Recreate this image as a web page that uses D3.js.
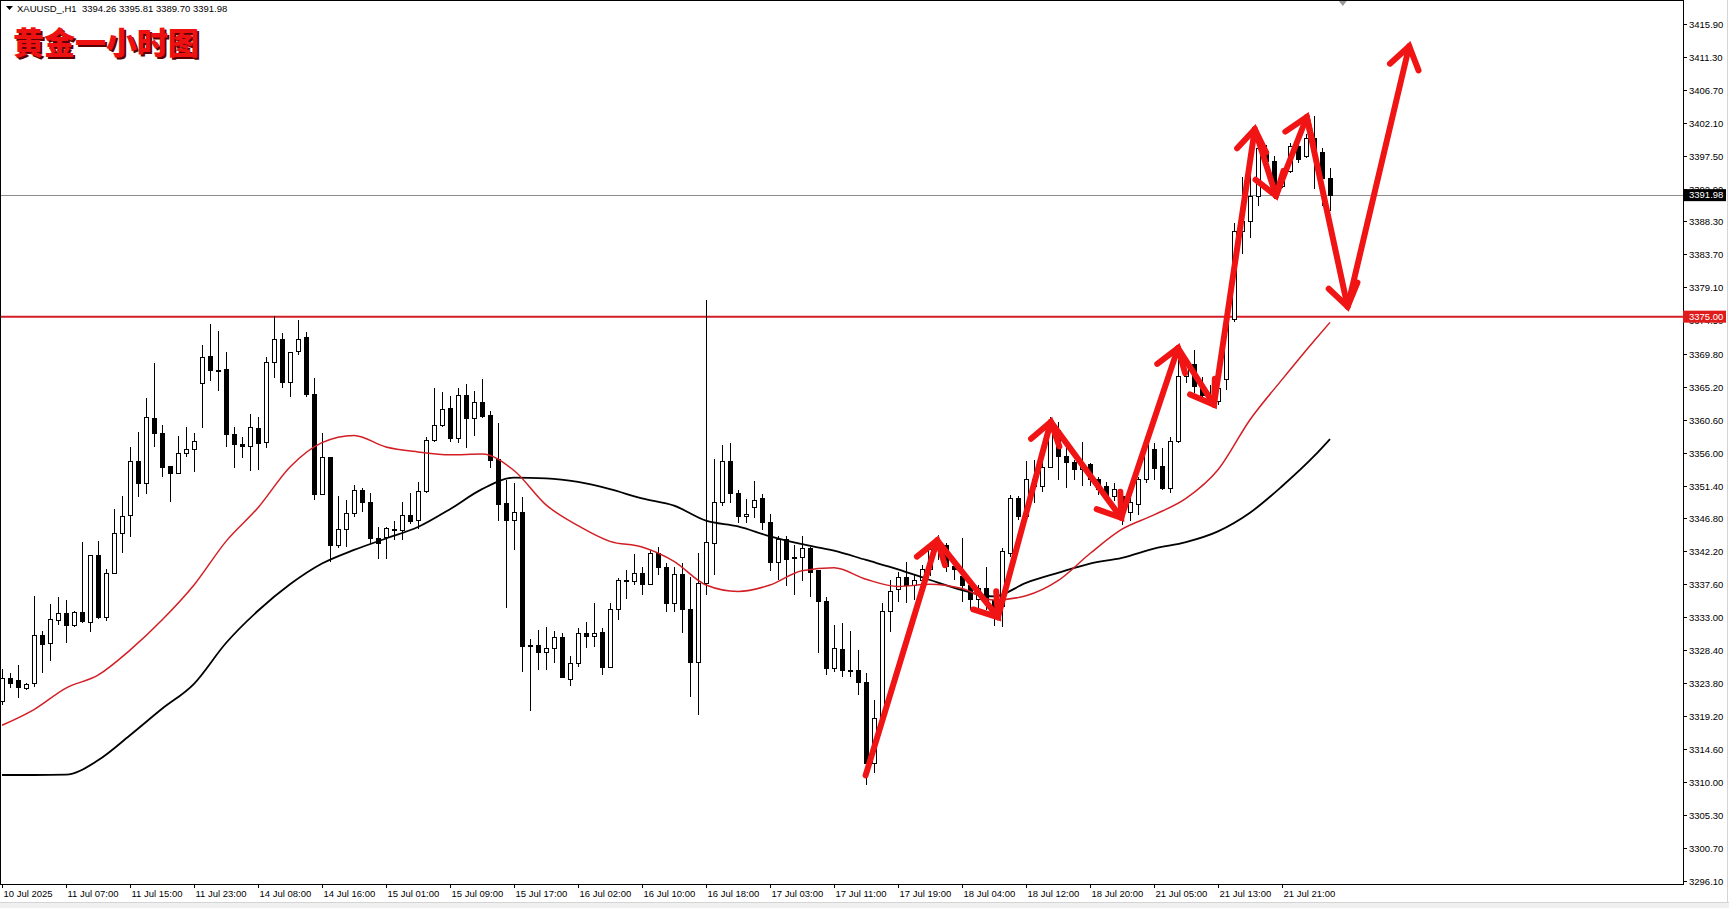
<!DOCTYPE html>
<html><head><meta charset="utf-8">
<script src="https://cdn.jsdelivr.net/npm/d3@7"></script>
<style>html,body{margin:0;padding:0;background:#fff;overflow:hidden}</style>
</head><body>
<svg id="c" width="1729" height="908"></svg>
<script>
// ---------------- DATA ----------------
const symbolInfo = "XAUUSD_,H1  3394.26 3395.81 3389.70 3391.98";
const title = "黄金一小时图";
const openP = [3321.2,3324.46,3324.13,3323.07,3323.76,3330.38,3329.35,3332.61,3333.55,3331.82,
3333.69,3332.24,3341.56,3332.99,3339.13,3344.72,3347.19,3354.74,3351.71,3360.79,
3358.7,3354.04,3353.11,3355.9,3356.46,3365.68,3369.41,3367.5,3367.55,3358.47,
3357.16,3356.84,3359.4,3357.4,3368.62,3371.83,3365.78,3370.11,3372.11,3364.15,
3350.18,3355.35,3343.0,3345.19,3347.52,3350.69,3349.1,3344.03,3344.17,3345.3,
3345.05,3347.2,3346.45,3350.55,3357.67,3359.8,3362.1,3358.0,3363.92,3360.8,
3363.03,3361.12,3354.98,3348.92,3346.5,3347.66,3329.0,3329.08,3328.05,3328.66,
3330.2,3324.33,3326.57,3330.76,3330.29,3330.9,3326.0,3334.11,3338.0,3337.98,
3339.14,3337.6,3341.93,3339.93,3334.85,3339.0,3334.1,3326.65,3337.73,3343.32,
3349.0,3354.74,3350.31,3347.14,3348.35,3349.61,3346.26,3340.67,3343.88,3341.2,
3341.32,3342.63,3339.5,3335.17,3325.86,3328.51,3325.6,3325.62,3323.9,3312.58,
3318.87,3333.78,3336.9,3338.58,3337.5,3338.2,3339.6,3342.5,3343.09,3340.07,
3338.67,3337.5,3335.5,3337.0,3335.4,3334.48,3341.93,3349.62,3347.05,3352.3,
3351.25,3353.95,3359.16,3355.44,3354.6,3353.6,3354.3,3352.18,3351.2,3349.85,
3349.8,3347.6,3348.69,3352.18,3356.38,3354.05,3351.02,3357.54,3366.62,3368.25,
3365.2,3364.0,3363.2,3366.16,3374.54,3386.9,3388.28,3391.8,3398.06,3396.7,
3393.17,3395.27,3398.76,3397.36,3399.9,3397.9,3394.26];
const highP = [3325.7,3325.16,3326.33,3323.86,3335.97,3331.12,3334.85,3335.78,3335.41,3333.9,
3343.47,3341.7,3343.65,3339.69,3348.08,3349.94,3356.83,3358.84,3363.59,3368.57,
3359.86,3354.1,3358.32,3359.53,3358.79,3371.04,3373.97,3373.04,3370.02,3359.63,
3358.23,3361.4,3360.94,3369.41,3375.1,3372.67,3370.11,3374.54,3372.9,3366.38,
3358.7,3355.4,3349.94,3349.38,3351.48,3351.01,3350.41,3345.57,3345.66,3346.5,
3349.06,3350.31,3351.95,3358.14,3364.99,3364.5,3363.92,3364.99,3365.55,3364.62,
3366.29,3361.87,3360.1,3352.18,3351.72,3349.85,3329.92,3331.22,3331.6,3331.13,
3330.85,3327.59,3331.46,3332.38,3334.95,3331.46,3334.95,3338.44,3339.61,3341.8,
3340.07,3342.4,3342.77,3340.54,3340.06,3340.62,3338.67,3341.93,3377.3,3355.06,
3357.06,3357.39,3350.78,3349.47,3352.08,3350.22,3347.42,3344.35,3344.35,3343.09,
3344.35,3342.86,3339.6,3335.87,3331.9,3332.15,3331.07,3328.42,3325.25,3321.43,
3335.03,3338.2,3339.37,3340.77,3338.9,3340.3,3343.5,3344.5,3343.33,3341.0,
3344.03,3338.2,3337.5,3340.0,3336.0,3342.63,3350.08,3349.94,3354.83,3355.0,
3354.97,3361.03,3360.33,3356.6,3354.97,3357.5,3354.6,3352.64,3351.95,3351.7,
3350.3,3350.0,3352.65,3358.24,3357.31,3356.61,3358.24,3369.0,3369.4,3370.35,
3366.5,3365.5,3366.0,3375.0,3388.05,3394.5,3395.27,3400.5,3398.99,3397.5,
3394.8,3399.23,3399.69,3400.5,3403.07,3398.5,3395.81];
const lowP = [3320.8,3323.07,3321.67,3322.83,3323.3,3325.16,3326.93,3331.92,3329.35,3331.7,
3332.15,3330.98,3332.71,3332.52,3339.0,3342.02,3344.26,3349.85,3350.17,3356.83,
3352.64,3349.15,3352.97,3355.44,3353.34,3359.4,3366.06,3364.66,3356.83,3353.9,
3355.3,3353.48,3353.57,3356.6,3366.38,3365.08,3363.73,3369.64,3363.73,3349.38,
3350.1,3340.77,3342.63,3342.86,3347.05,3347.75,3343.24,3341.09,3341.09,3343.8,
3343.8,3346.03,3345.29,3350.41,3357.53,3359.6,3357.54,3357.4,3356.6,3358.38,
3360.8,3353.9,3346.45,3334.25,3342.4,3325.4,3319.95,3325.63,3325.63,3326.57,
3324.47,3323.4,3326.0,3328.66,3328.8,3324.93,3325.87,3332.62,3335.51,3337.5,
3336.11,3337.5,3338.91,3333.78,3333.77,3330.75,3321.9,3319.34,3336.1,3338.9,
3348.54,3348.91,3346.12,3346.12,3346.82,3345.19,3339.5,3338.2,3337.36,3336.1,
3338.11,3335.78,3328.05,3324.93,3325.39,3324.6,3324.6,3322.13,3309.56,3311.19,
3318.5,3330.98,3335.18,3334.95,3335.4,3337.3,3338.8,3341.0,3339.37,3338.2,
3335.18,3334.0,3334.0,3334.0,3331.8,3331.68,3341.46,3346.59,3346.96,3349.0,
3350.55,3353.8,3352.18,3351.0,3352.18,3351.3,3351.3,3350.08,3349.15,3349.2,
3345.9,3346.5,3347.3,3351.72,3352.18,3350.79,3350.41,3357.3,3365.7,3364.29,
3363.0,3362.5,3362.6,3364.76,3374.3,3383.8,3385.95,3390.5,3395.5,3391.5,
3393.0,3395.03,3396.43,3397.13,3392.9,3390.4,3389.70];
const closeP = [3324.46,3323.76,3323.16,3323.62,3330.38,3329.21,3332.71,3333.55,3331.82,3333.69,
3332.38,3341.56,3332.94,3339.13,3344.72,3347.05,3354.74,3351.71,3360.93,3358.7,
3353.95,3353.11,3355.9,3356.46,3357.53,3369.32,3367.45,3367.3,3358.47,3357.07,
3356.84,3359.54,3357.3,3368.62,3371.83,3365.78,3370.02,3371.83,3364.15,3350.18,
3355.35,3343.0,3345.19,3347.52,3350.69,3349.01,3343.94,3343.24,3345.43,3345.1,
3347.2,3346.36,3350.55,3357.67,3359.77,3362.06,3358.0,3363.92,3360.8,3363.03,
3361.03,3354.88,3348.78,3346.5,3347.66,3328.89,3328.9,3328.05,3328.66,3330.2,
3324.61,3326.47,3330.76,3330.29,3330.76,3326.0,3334.11,3338.07,3338.1,3339.14,
3337.6,3341.93,3339.93,3334.95,3339.0,3334.1,3326.65,3337.73,3343.42,3349.0,
3354.74,3350.31,3347.14,3347.38,3349.38,3346.26,3340.67,3343.88,3341.09,3341.4,
3342.63,3339.23,3335.17,3325.86,3328.65,3325.62,3325.5,3323.9,3312.58,3318.87,
3333.78,3336.6,3338.58,3337.5,3338.2,3339.6,3342.5,3343.1,3340.07,3339.6,
3337.5,3335.5,3337.0,3335.4,3333.0,3342.16,3349.62,3347.05,3352.27,3351.3,
3353.95,3359.16,3355.44,3354.6,3353.58,3354.3,3352.18,3350.78,3349.85,3350.78,
3347.6,3349.0,3352.18,3357.31,3353.81,3351.02,3357.54,3366.62,3368.25,3365.23,
3364.0,3363.2,3365.0,3374.54,3386.88,3388.3,3391.77,3398.5,3396.66,3393.2,
3394.57,3398.76,3396.9,3399.92,3397.9,3394.3,3391.98];

const maBar  = [0,4,8,12,16,20,24,28,32,36,40,44,48,52,56,60,64,68,72,76,80,84,88,92,96,100,104,108,112,116,120,124,128,132,136,140,144,148,152,156,160,164,166];
const maRed  = [3317.9,3320.1,3323.1,3324.9,3328.4,3332.6,3337.5,3343.6,3348.3,3354.0,3357.4,3358.4,3356.8,3356.1,3355.7,3355.8,3353.5,3348.7,3345.8,3343.6,3342.8,3340.8,3337.5,3336.6,3337.5,3339.5,3339.9,3338.3,3337.3,3337.6,3337.0,3335.4,3336.0,3338.1,3341.9,3345.3,3347.3,3349.6,3353.6,3360.6,3366.2,3371.6,3374.2];
const maBlack= [3310.95,3310.95,3311.0,3313.0,3316.5,3320.2,3323.7,3329.4,3333.9,3337.6,3340.5,3342.4,3344.0,3345.6,3348.1,3350.9,3352.5,3352.4,3351.9,3350.9,3349.6,3348.6,3346.5,3345.7,3344.3,3343.2,3342.3,3341.0,3339.7,3338.2,3336.8,3335.9,3337.8,3339.2,3340.5,3341.3,3342.6,3343.5,3345.0,3347.6,3351.3,3355.5,3357.9];

const arrowBar   = [107.95,116.9,124.5,131.1,139.9,147.0,151.5,156.6,159.25,163.1,168.2,175.9];
const arrowPrice = [3310.9,3343.75,3333.0,3360.3,3346.9,3370.6,3362.7,3401.2,3391.9,3402.9,3376.4,3412.8];

const priceTicks = ["3415.90","3411.30","3406.70","3402.10","3397.50","3392.90","3388.30","3383.70","3379.10","3374.50","3369.80","3365.20","3360.60","3356.00","3351.40","3346.80","3342.20","3337.60","3333.00","3328.40","3323.80","3319.20","3314.60","3310.00","3305.30","3300.70","3296.10"];
const timeLabels = ["10 Jul 2025","11 Jul 07:00","11 Jul 15:00","11 Jul 23:00","14 Jul 08:00","14 Jul 16:00","15 Jul 01:00","15 Jul 09:00","15 Jul 17:00","16 Jul 02:00","16 Jul 10:00","16 Jul 18:00","17 Jul 03:00","17 Jul 11:00","17 Jul 19:00","18 Jul 04:00","18 Jul 12:00","18 Jul 20:00","21 Jul 05:00","21 Jul 13:00","21 Jul 21:00"];
const barsPerLabel = 8;
const resistance = 3375.00;
const lastPrice = 3391.98;
const shiftMarkerBar = 167.6;

// ---------------- LAYOUT ----------------
const W = 1729, H = 908;
const plotR = 1683, plotB = 884;
const svg = d3.select("#c");
const x = d3.scaleLinear().domain([0, 166]).range([2, 1330]);
const y = d3.scaleLinear().domain([3295.72, 3419.25]).range([plotB, 0]);
const axisFont = "'Liberation Sans', Arial, sans-serif";

svg.append("rect").attr("width", W).attr("height", H).attr("fill", "#fff");
// bottom window strip
svg.append("rect").attr("x", 0).attr("y", 903).attr("width", W).attr("height", 5).attr("fill", "#f0f0f0");
svg.append("line").attr("x1", 0).attr("x2", W).attr("y1", 902.5).attr("y2", 902.5).attr("stroke", "#d4d4d4");
svg.append("line").attr("x1", 1727.5).attr("x2", 1727.5).attr("y1", 0).attr("y2", 903).attr("stroke", "#d4d4d4");

const plot = svg.append("g");
const clip = svg.append("clipPath").attr("id", "pc").append("rect").attr("x", 0).attr("y", 0).attr("width", plotR).attr("height", plotB);
plot.attr("clip-path", "url(#pc)");

// horizontal lines
plot.append("line").attr("x1", 0).attr("x2", plotR).attr("y1", Math.round(y(lastPrice)) + 0.5).attr("y2", Math.round(y(lastPrice)) + 0.5)
  .attr("stroke", "#8c8c8c").attr("stroke-width", 1);
plot.append("line").attr("x1", 0).attr("x2", plotR).attr("y1", y(resistance)).attr("y2", y(resistance))
  .attr("stroke", "#d21e24").attr("stroke-width", 2);

// candles
const idx = d3.range(openP.length);
const cg = plot.append("g").attr("shape-rendering", "crispEdges");
cg.selectAll("line.w").data(idx).join("line")
  .attr("x1", i => Math.round(x(i)) + 0.5).attr("x2", i => Math.round(x(i)) + 0.5)
  .attr("y1", i => y(highP[i])).attr("y2", i => y(lowP[i]))
  .attr("stroke", "#000").attr("stroke-width", 1);
cg.selectAll("rect.b").data(idx).join("rect")
  .attr("x", i => Math.round(x(i)) - 2 + 0.5)
  .attr("width", 4)
  .attr("y", i => y(Math.max(openP[i], closeP[i])))
  .attr("height", i => Math.max(1, Math.abs(y(openP[i]) - y(closeP[i]))))
  .attr("fill", i => closeP[i] >= openP[i] ? "#fff" : "#000")
  .attr("stroke", "#000").attr("stroke-width", 1);

// moving averages
const maLine = vals => d3.line().x((d, k) => x(maBar[k])).y(d => y(d)).curve(d3.curveMonotoneX)(vals);
plot.append("path").attr("d", maLine(maBlack)).attr("fill", "none").attr("stroke", "#000").attr("stroke-width", 1.8);
plot.append("path").attr("d", maLine(maRed)).attr("fill", "none").attr("stroke", "#d21e24").attr("stroke-width", 1.5);

// arrows
const pts = arrowBar.map((b, k) => [x(b), y(arrowPrice[k])]);
const ag = plot.append("g").attr("stroke", "#f01414").attr("stroke-width", 6).attr("stroke-linecap", "round").attr("fill", "none");
for (let k = 1; k < pts.length; k++) {
  const [x0, y0] = pts[k - 1], [x1, y1] = pts[k];
  ag.append("line").attr("x1", x0).attr("y1", y0).attr("x2", x1).attr("y2", y1);
  const a = Math.atan2(y0 - y1, x0 - x1), L = 26, s = 0.6;
  ag.append("path").attr("d", `M${x1 + L * Math.cos(a + s)},${y1 + L * Math.sin(a + s)}L${x1},${y1}L${x1 + L * Math.cos(a - s)},${y1 + L * Math.sin(a - s)}`)
    .attr("stroke-linejoin", "miter");
}

// frame
svg.append("rect").attr("x", 0.5).attr("y", 0.5).attr("width", plotR - 0.5).attr("height", plotB - 0.5)
  .attr("fill", "none").attr("stroke", "#000").attr("stroke-width", 1).attr("shape-rendering", "crispEdges");

// price axis
const pa = svg.append("g");
priceTicks.forEach(t => {
  const yy = Math.round(y(+t)) + 0.5;
  pa.append("line").attr("x1", plotR).attr("x2", plotR + 4).attr("y1", yy).attr("y2", yy).attr("stroke", "#000");
  pa.append("text").attr("x", plotR + 6).attr("y", yy).attr("dy", "0.35em")
    .attr("font-family", axisFont).attr("font-size", 9.5).attr("fill", "#000").text(t);
});
// price labels
[[lastPrice, "#000"], [resistance, "#e01b1b"]].forEach(([p, col]) => {
  const yy = y(p);
  pa.append("rect").attr("x", plotR).attr("y", yy - 6).attr("width", 43).attr("height", 12).attr("fill", col);
  pa.append("text").attr("x", plotR + 6).attr("y", yy).attr("dy", "0.35em")
    .attr("font-family", axisFont).attr("font-size", 9.5).attr("fill", "#fff").text(p.toFixed(2));
});

// time axis
const ta = svg.append("g");
timeLabels.forEach((t, k) => {
  const xx = Math.round(x(k * barsPerLabel)) + 0.5;
  ta.append("line").attr("x1", xx).attr("x2", xx).attr("y1", plotB).attr("y2", plotB + 4).attr("stroke", "#000");
  ta.append("text").attr("x", xx + 1).attr("y", plotB + 12).attr("dy", "0.1em")
    .attr("font-family", axisFont).attr("font-size", 9.5).attr("fill", "#000").text(t);
});

// chart shift marker
const sx = x(shiftMarkerBar);
svg.append("path").attr("d", `M${sx - 4},1L${sx + 4},1L${sx},6Z`).attr("fill", "#9a9a9a");

// header
svg.append("path").attr("d", "M6,6L13,6L9.5,10Z").attr("fill", "#000");
svg.append("text").attr("x", 17).attr("y", 12).attr("font-family", axisFont).attr("font-size", 9.5).attr("fill", "#000")
  .attr("xml:space", "preserve").style("white-space", "pre").text(symbolInfo);

// title with shadow
const tf = "'Noto Sans CJK SC', sans-serif";
svg.append("text").attr("x", 15).attr("y", 56).attr("font-family", tf).attr("font-size", 31).attr("font-weight", 900)
  .attr("fill", "#5a0000").text(title);
svg.append("text").attr("x", 13).attr("y", 54).attr("font-family", tf).attr("font-size", 31).attr("font-weight", 900)
  .attr("fill", "#ee1111").text(title);
</script>
</body></html>
